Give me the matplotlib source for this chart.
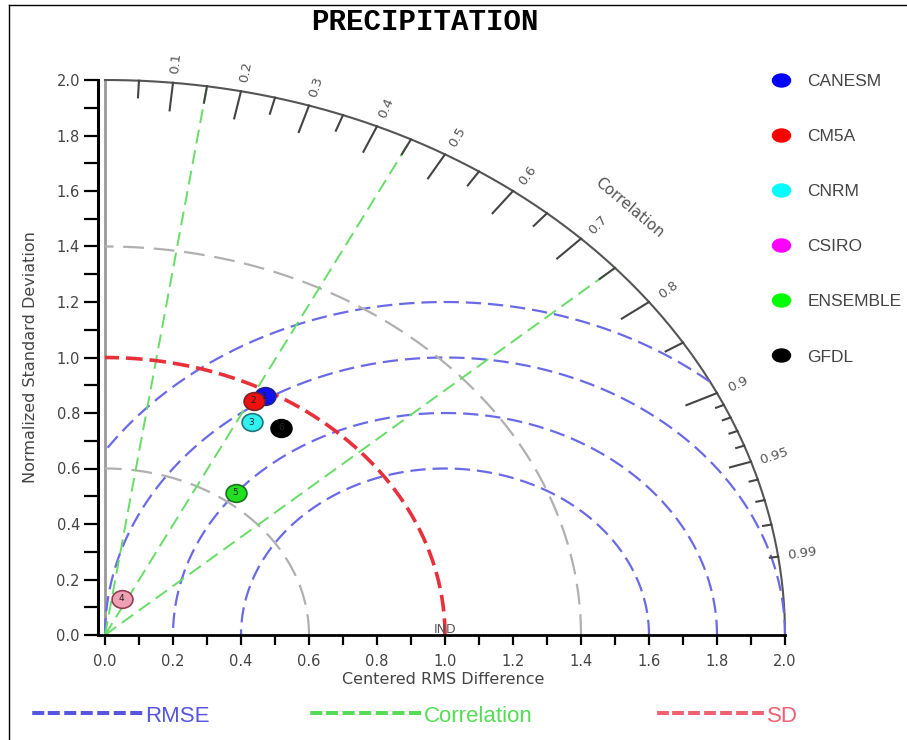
import numpy as np
import matplotlib
matplotlib.use("Agg")
import matplotlib.pyplot as plt
from matplotlib.path import Path
from matplotlib.lines import Line2D

plt.rcParams["lines.scale_dashes"] = False
plt.rcParams["font.family"] = ["DejaVu Sans"]

# ---- data ----
models = ["CANESM", "CM5A", "CNRM", "CSIRO", "ENSEMBLE", "GFDL"]
legend_colors = ["#0000ff", "#ff0000", "#00ffff", "#ff00ff", "#00ff00", "#000000"]
face_colors = ["#1010f0", "#f01010", "#30f0f0", "#f0a0b4", "#20e020", "#000000"]
edge_colors = ["#202080", "#802020", "#207878", "#904050", "#207020", "#000000"]
std_dev = [0.98, 0.95, 0.88, 0.14, 0.64, 0.91]
correlation = [0.48, 0.46, 0.49, 0.35, 0.60, 0.57]
marker_ids = ["1", "2", "3", "4", "5", "6"]

rmse_levels = [0.6, 0.8, 1.0, 1.2]
sd_levels = [0.6, 1.4]
ref_sd = 1.0
ref_name = "IND"
corr_lines = [0.15, 0.45, 0.75]
corr_long = [0.1, 0.2, 0.3, 0.4, 0.5, 0.6, 0.7, 0.8, 0.9]
corr_mid = [0.05, 0.15, 0.25, 0.35, 0.45, 0.55, 0.65, 0.75, 0.85, 0.95]
corr_fine = [0.91, 0.92, 0.93, 0.94, 0.96, 0.97, 0.98, 0.99]
corr_labels = [0.1, 0.2, 0.3, 0.4, 0.5, 0.6, 0.7, 0.8, 0.9, 0.95, 0.99]
max_sd = 2.0

W, H = 907, 740
fig = plt.figure(figsize=(W / 100, H / 100), dpi=100)
ax = fig.add_axes([98 / W, 105 / H, 687 / W, 555 / H])
ax.set_xlim(-7 / 340, max_sd)
ax.set_ylim(0, max_sd)

for s in ("top", "right"):
    ax.spines[s].set_visible(False)
ax.spines["left"].set_linewidth(2.2)
ax.spines["bottom"].set_linewidth(2.0)
ax.set_xticks(np.arange(0, 2.01, 0.2))
ax.set_xticks(np.arange(0, 2.01, 0.1), minor=True)
ax.set_yticks(np.arange(0, 2.01, 0.2))
ax.set_yticks(np.arange(0, 2.01, 0.1), minor=True)
ax.xaxis.set_major_formatter(matplotlib.ticker.FormatStrFormatter("%.1f"))
ax.yaxis.set_major_formatter(matplotlib.ticker.FormatStrFormatter("%.1f"))
ax.tick_params(axis="x", which="both", length=7.5, width=1.6, pad=6,
               labelsize=10.5, labelcolor="#444")
ax.tick_params(axis="y", which="both", length=10, width=1.6, pad=3,
               labelsize=10.5, labelcolor="#444")

th = np.linspace(0, np.pi / 2, 400)
# left radial boundary and outer arc
ax.plot([0, 0], [0, max_sd], color="#999999", lw=2, clip_on=False)
ax.plot(max_sd * np.cos(th), max_sd * np.sin(th), color="#555555", lw=1.5, clip_on=False)

# RMSE circles around the reference point
ph = np.linspace(0, np.pi, 800)
for r in rmse_levels:
    x = ref_sd + r * np.cos(ph)
    y = r * np.sin(ph)
    ok = (x >= 0) & (x ** 2 + y ** 2 <= max_sd ** 2 + 1e-9)
    ax.plot(x[ok], y[ok], color="#6a6ae6", lw=1.6, dashes=(11, 5), clip_on=False)

# standard deviation arcs
for r in sd_levels:
    ax.plot(r * np.cos(th), r * np.sin(th), color="#b0b0b0", lw=1.6, dashes=(15, 7), clip_on=False)

# correlation rays
for c in corr_lines:
    a = np.arccos(c)
    ax.plot([0, max_sd * np.cos(a)], [0, max_sd * np.sin(a)], color="#66dd66", lw=1.4,
            dashes=(10, 5), clip_on=False)

# reference SD arc
ax.plot(ref_sd * np.cos(th), ref_sd * np.sin(th), color="#e8303a", lw=2.6, dashes=(12, 5),
        clip_on=False)

# correlation ticks and labels on the outer arc
for ticks, ln in ((corr_long, 0.1), (corr_mid, 0.06), (corr_fine, 0.025)):
    for c in ticks:
        a = np.arccos(c)
        L = 0.065 if c == 0.95 else ln
        ax.plot([max_sd * np.cos(a), (max_sd - L) * np.cos(a)],
                [max_sd * np.sin(a), (max_sd - L) * np.sin(a)],
                color="#444444", lw=1.5, clip_on=False)
for c in corr_labels:
    a = np.arccos(c)
    ax.text(2.07 * np.cos(a), 2.07 * np.sin(a), f"{c:g}", rotation=np.degrees(a),
            rotation_mode="anchor", ha="center", va="center", fontsize=9.5, color="#555")
ax.text(2.18 * np.cos(np.pi / 4), 2.18 * np.sin(np.pi / 4), "Correlation", rotation=-40,
        rotation_mode="anchor", ha="center", va="center", fontsize=11, color="#555")
ax.text(ref_sd, 0.02, ref_name, ha="center", va="center", fontsize=9, color="#555")

# model points
ell = Path(Path.unit_circle().vertices * [1.0, 0.85], Path.unit_circle().codes)
for i, m in enumerate(models):
    a = np.arccos(correlation[i])
    x, y = std_dev[i] * np.cos(a), std_dev[i] * np.sin(a)
    ax.plot(x, y, marker=ell, ms=15, mfc=face_colors[i], mec=edge_colors[i], mew=1.2,
            ls="none", clip_on=False, zorder=5)
    ax.text(x, y, marker_ids[i], ha="center", va="center", fontsize=6.5, color="#222", zorder=6)

# legend on the right
ell_leg = Path(Path.unit_circle().vertices * [1.0, 0.72], Path.unit_circle().codes)
handles = [Line2D([], [], marker=ell_leg, ms=13, mfc=c, mec=c, ls="none") for c in legend_colors]
fig.legend(handles, models, loc="upper left", bbox_to_anchor=(772 / W, 1 - 74 / H),
           frameon=False, labelcolor="#444", handlelength=1.0,
           handletextpad=1.05, labelspacing=2.3, borderpad=0, borderaxespad=0,
           prop={"family": "Liberation Sans", "size": 12.5})

# titles / axis labels
fig.text(425 / W, 1 - 22 / H, "PRECIPITATION", ha="center", va="center",
         fontfamily="Liberation Mono", fontweight="bold", fontsize=21)
fig.text(31 / W, 1 - 357 / H, "Normalized Standard Deviation", rotation=90,
         ha="center", va="center", fontsize=11.5, color="#444")
fig.text(443 / W, 1 - 680 / H, "Centered RMS Difference", ha="center", va="center",
         fontsize=11.5, color="#444")

# bottom key
key = [("RMSE", "#5555e0", 30, 145), ("Correlation", "#55dd55", 308, 424), ("SD", "#f06070", 655, 767)]
for lab, col, x0, x1 in key:
    fig.text(x0 / W, 1 - 726 / H, "-------", ha="left", va="baseline", color=col,
             fontfamily="Liberation Sans", fontsize=(x1 - x0) / 7 / 0.333 * 0.72)
    fig.text(x1 / W, 1 - 721.5 / H, lab, ha="left", va="baseline", color=col,
             fontfamily="Liberation Sans", fontsize=16)

# frame lines of the original screenshot
fig.add_artist(Line2D([9 / W, 9 / W], [0, 1 - 5 / H], transform=fig.transFigure, color="k", lw=1))
fig.add_artist(Line2D([9 / W, 1], [1 - 5 / H, 1 - 5 / H], transform=fig.transFigure, color="k", lw=1))

fig.savefig("out.png", dpi=100)
